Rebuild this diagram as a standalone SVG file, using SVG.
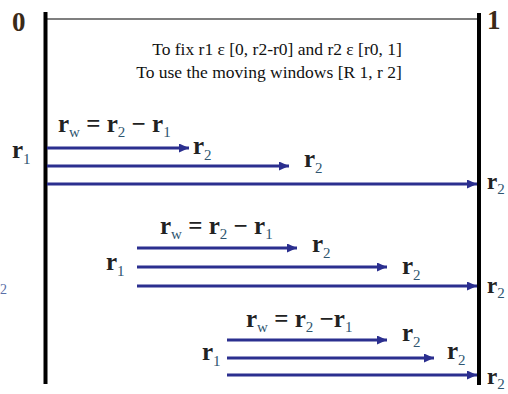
<svg xmlns="http://www.w3.org/2000/svg" width="508" height="394" viewBox="0 0 508 394">
<defs>
<marker id="ah" markerUnits="userSpaceOnUse" markerWidth="11" markerHeight="9" refX="10" refY="4.5" orient="auto">
<path d="M0,0 L10,4.5 L0,9 z" fill="#2b2f8f"/>
</marker>
</defs>
<style>
.axis{stroke:#000;stroke-width:4;fill:none}
.top{stroke:#555;stroke-width:1.6;fill:none}
.arr{stroke:#2b2f8f;stroke-width:3;fill:none;marker-end:url(#ah)}
.cap{font-family:"Liberation Serif",serif;font-size:17.5px;fill:#111;text-anchor:middle}
.m{font-family:"Liberation Serif",serif;font-size:25px;fill:#222;font-weight:bold}
.s{font-size:15px;fill:#2e5570;font-weight:normal}
.e{font-size:23px}
.num{font-family:"Liberation Serif",serif;font-size:27px;fill:#3a2a18;font-weight:bold}
</style>
<rect width="508" height="394" fill="#fff"/>
<g id="frame">
<line class="top" x1="45" y1="19" x2="479" y2="19"/>
<line class="axis" x1="45.5" y1="12" x2="45.5" y2="384"/>
<line class="axis" x1="479" y1="13" x2="479" y2="385"/>
<text class="num" x="12" y="31">0</text>
<text class="num" x="487" y="29">1</text>
<text x="0" y="294" font-family="Liberation Serif, serif" font-size="14" fill="#5a6fa8">2</text>
</g>
<g id="caption">
<text class="cap" x="277" y="55">To fix r1 ε [0, r2-r0] and r2 ε [r0, 1]</text>
<text class="cap" x="269" y="78">To use the moving windows [R 1, r 2]</text>
</g>
<g id="connectors">
<line class="arr" x1="47" y1="148" x2="189" y2="148"/>
<line class="arr" x1="47" y1="166" x2="289" y2="166"/>
<line class="arr" x1="47" y1="184" x2="477" y2="184"/>
<line class="arr" x1="137" y1="248" x2="297" y2="248"/>
<line class="arr" x1="137" y1="267" x2="387" y2="267"/>
<line class="arr" x1="137" y1="286" x2="477" y2="286"/>
<line class="arr" x1="227" y1="340" x2="387" y2="340"/>
<line class="arr" x1="227" y1="358" x2="434" y2="358"/>
<line class="arr" x1="227" y1="375" x2="477" y2="375"/>
</g>
<g id="window1">
<text class="m" x="58" y="132">r<tspan class="s" dy="5">w</tspan><tspan dy="-5"> = r</tspan><tspan class="s" dy="5">2</tspan><tspan dy="-5"> − r</tspan><tspan class="s" dy="5">1</tspan></text>
<text class="m" x="12" y="158">r<tspan class="s" dy="6">1</tspan></text>
<text class="m" x="193" y="154">r<tspan class="s" dy="6">2</tspan></text>
<text class="m" x="304" y="167">r<tspan class="s" dy="6">2</tspan></text>
<text class="m e" x="487" y="189">r<tspan class="s" dy="5">2</tspan></text>
</g>
<g id="window2">
<text class="m" x="160" y="234">r<tspan class="s" dy="5">w</tspan><tspan dy="-5"> = r</tspan><tspan class="s" dy="5">2</tspan><tspan dy="-5"> − r</tspan><tspan class="s" dy="5">1</tspan></text>
<text class="m" x="106" y="270">r<tspan class="s" dy="6">1</tspan></text>
<text class="m" x="312" y="252">r<tspan class="s" dy="6">2</tspan></text>
<text class="m" x="402" y="274">r<tspan class="s" dy="6">2</tspan></text>
<text class="m e" x="487" y="293">r<tspan class="s" dy="5">2</tspan></text>
</g>
<g id="window3">
<text class="m" x="246" y="327">r<tspan class="s" dy="5">w</tspan><tspan dy="-5"> = r</tspan><tspan class="s" dy="5">2</tspan><tspan dy="-5"> −r</tspan><tspan class="s" dy="5">1</tspan></text>
<text class="m" x="202" y="360">r<tspan class="s" dy="6">1</tspan></text>
<text class="m" x="402" y="341">r<tspan class="s" dy="6">2</tspan></text>
<text class="m" x="447" y="359">r<tspan class="s" dy="6">2</tspan></text>
<text class="m e" x="487" y="384">r<tspan class="s" dy="5">2</tspan></text>
</g>
</svg>
